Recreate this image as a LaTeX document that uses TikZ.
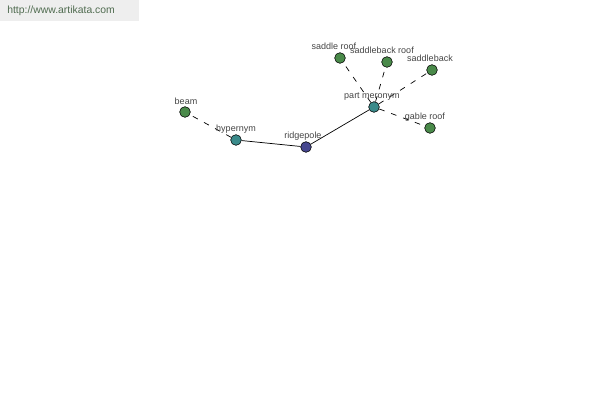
\documentclass[tikz,border=0pt]{standalone}
\usepackage{fontspec}
\setmainfont{Liberation Sans}
\usetikzlibrary{backgrounds}

\definecolor{rootblue}{HTML}{46478F}
\definecolor{relteal}{HTML}{3A8A8A}
\definecolor{leafgreen}{HTML}{4A8A4A}
\definecolor{labelgray}{HTML}{444444}
\definecolor{bargray}{HTML}{EEEEEE}
\definecolor{urlgreen}{HTML}{4F6B4F}

\tikzset{
  word/.style={circle, draw=black, line width=0.4pt, inner sep=0pt, minimum size=7.6pt},
  root/.style={word, fill=rootblue},
  rel/.style={word, fill=relteal},
  leaf/.style={word, fill=leafgreen},
  tag/.style={font=\fontsize{6.4}{7}\selectfont, text=labelgray, inner sep=1pt},
  link/.style={line width=0.5pt},
  sublink/.style={line width=0.5pt, dash pattern=on 4pt off 5pt},
}

\begin{document}
\begin{tikzpicture}[x=0.025cm, y=-0.025cm]
  \useasboundingbox (0,0) rectangle (600,400);
  \fill[bargray] (0,0) rectangle (139,21);
  \node[font=\fontsize{7.4}{8}\selectfont, text=urlgreen, anchor=west, inner sep=0pt] (url) at (7,11) {http://www.artikata.com};

  \node[root] (ridgepole) at (306,147) {};
  \node[rel] (hyp) at (236,140) {};
  \node[rel] (mero) at (374,107) {};
  \node[leaf] (beam) at (185,112) {};
  \node[leaf] (sroof) at (340,58) {};
  \node[leaf] (sbroof) at (387,62) {};
  \node[leaf] (sback) at (432,70) {};
  \node[leaf] (gable) at (430,128) {};

  \node[tag] at (303,136) {ridgepole};
  \node[tag] at (236,129) {hypernym};
  \node[tag] at (372,97) {part meronym};
  \node[tag] at (186,101) {beam};
  \node[tag] at (334,46) {saddle roof};
  \node[tag] at (382,50) {saddleback roof};
  \node[tag] at (430,58) {saddleback};
  \node[tag] at (425,117) {gable roof};

  \begin{pgfonlayer}{background}
    \draw[link] (hyp) -- (ridgepole) -- (mero);
    \draw[sublink] (hyp) -- (beam);
    \draw[sublink] (mero) -- (sroof);
    \draw[sublink] (mero) -- (sbroof);
    \draw[sublink] (mero) -- (sback);
    \draw[sublink] (mero) -- (gable);
  \end{pgfonlayer}
\end{tikzpicture}
\end{document}
